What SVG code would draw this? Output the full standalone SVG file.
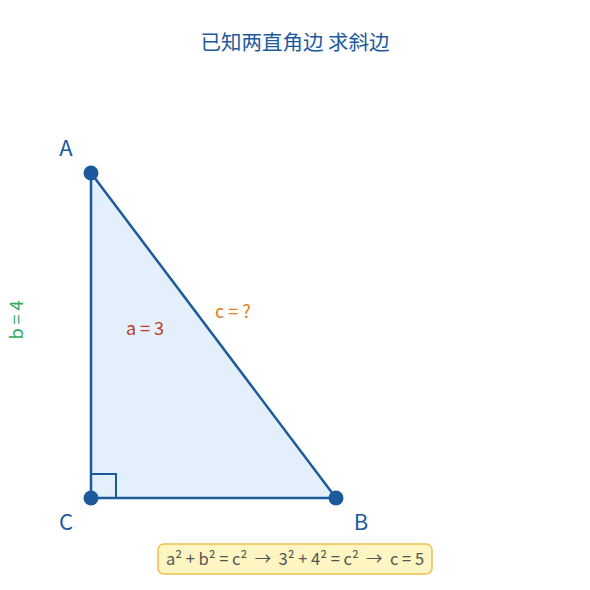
<svg xmlns="http://www.w3.org/2000/svg" width="590" height="590" viewBox="0 0 590 590">
<style>
text{font-family:"Noto Sans CJK SC","Noto Sans",sans-serif}
.pt{fill:#1c5a9c}
.lbl{font-size:22px;fill:#1c5a9c}
.edge{stroke:#1c5a9c;stroke-width:2.5;fill:none}
</style>
<rect width="590" height="590" fill="#fff"/>
<text x="295" y="50" text-anchor="middle" font-size="20.5" fill="#1c5a9c">已知两直角边 求斜边</text>
<g id="triangle">
<polygon points="91,173 336,498 91,498" fill="#e3f0fc" stroke="none"/>
</g>
<g id="connectors">
<line class="edge" x1="91" y1="173" x2="336" y2="498"/>
<line class="edge" x1="91" y1="173" x2="91" y2="498"/>
<line class="edge" x1="91" y1="498" x2="336" y2="498"/>
<rect x="91" y="474" width="25" height="24" fill="none" stroke="#1c5a9c" stroke-width="2"/>
</g>
<g id="A"><circle class="pt" cx="91" cy="173" r="7.5"/><text class="lbl" x="66" y="156" text-anchor="middle">A</text></g>
<g id="B"><circle class="pt" cx="336" cy="498" r="7.5"/><text class="lbl" x="361" y="530" text-anchor="middle">B</text></g>
<g id="C"><circle class="pt" cx="91" cy="498" r="7.5"/><text class="lbl" x="66" y="530" text-anchor="middle">C</text></g>
<text x="145" y="335" text-anchor="middle" font-size="18" fill="#c0392b">a = 3</text>
<text x="233" y="318" text-anchor="middle" font-size="18" fill="#e67e22">c = ?</text>
<text transform="translate(23,320) rotate(-90)" text-anchor="middle" font-size="18" fill="#2eaa5c">b = 4</text>
<g id="formula">
<rect x="158" y="544" width="274" height="30" rx="6" fill="#fdf5c2" stroke="#f0c050" stroke-width="1.5"/>
<text x="295" y="565" text-anchor="middle" font-size="16.5" fill="#555" style="white-space:pre">a² + b² = c²  →  3² + 4² = c²  →  c = 5</text>
</g>
</svg>
